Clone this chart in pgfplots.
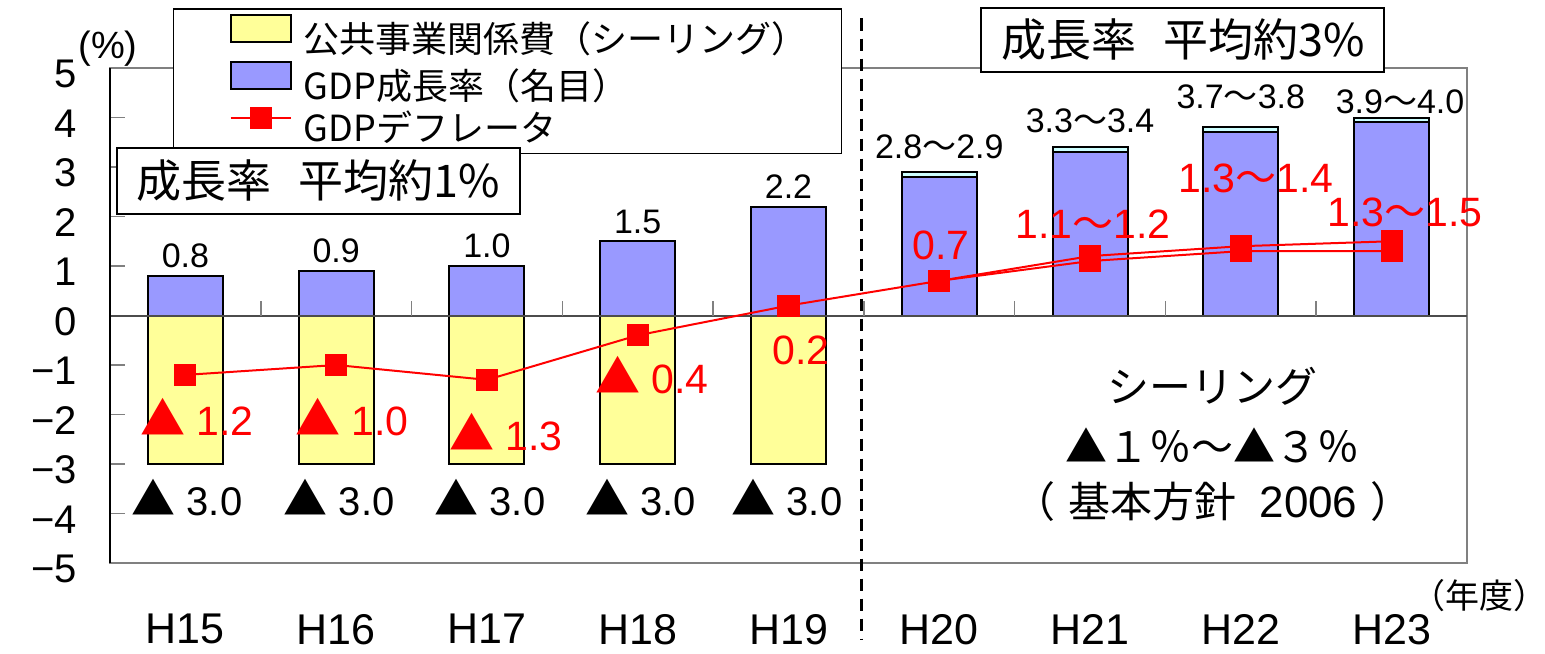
\documentclass[border=0pt]{standalone}
\usepackage{graphicx}
\usepackage{pgfplots}
\pgfplotsset{compat=1.18}
\usepackage{fontspec}
\setmainfont{Liberation Sans}
\newfontfamily\jp{Noto Sans CJK JP}
\newcommand{\fs}[1]{\fontsize{#1}{#1}\selectfont}
\newcommand{\tri}{\scalebox{1.1}{\jp ▲}}
\newcommand{\wv}{{\jp 〜}}
\newcommand{\lgd}[1]{\raisebox{0pt}[13pt][3pt]{#1}}
\definecolor{ceilfill}{HTML}{FFFF99}
\definecolor{gdpfill}{HTML}{9999FF}
\definecolor{rangefill}{HTML}{CCFFFF}
\definecolor{framegray}{HTML}{808080}
\pgfplotsset{
  boxlegend/.style={legend image code/.code={\path (-13pt,6pt);
     \draw[##1] (0pt,-0.5pt) rectangle (30pt,13pt);}},
  marklegend/.style={legend image code/.code={\path (-13pt,6pt);
     \draw[mark repeat=2, mark phase=2, ##1]
     plot coordinates {(0pt,6.3pt) (15pt,6.3pt) (30pt,6.3pt)};}},
}

\begin{document}
\begin{tikzpicture}
\path[use as bounding box] (-55pt,-45pt) rectangle (717.5pt,281.5pt);
\begin{axis}[
  name=ax, at={(0pt,0pt)}, anchor=south west,
  scale only axis, width=678.5pt, height=247.5pt,
  xmin=-0.5, xmax=8.5, ymin=-5, ymax=5,
  clip=false,
  axis line style={draw=framegray, line width=0.8pt},
  xtick={0,1,2,3,4,5,6,7,8},
  xticklabels={H15,H16,H17,H18,H19,H20,H21,H22,H23},
  xtick style={draw=none},
  xticklabel style={font=\fs{21.5}, inner sep=0pt, yshift=-25.5pt},
  ytick={-5,-4,-3,-2,-1,0,1,2,3,4,5},
  yticklabels={−5,−4,−3,−2,−1,0,1,2,3,4,5},
  ytick pos=left, tick align=inside, major tick length=7.5pt,
  ytick style={draw=framegray, line width=0.8pt},
  yticklabel style={font=\fs{20}, xshift=-13pt, yshift=-3pt},
  legend style={at={(0.0464,1.1212)}, anchor=north west,
    draw=black, line width=0.75pt, fill=white,
    inner xsep=15pt, inner ysep=2.5pt, row sep=0.7pt,
    font=\jp\fs{18},
    nodes={inner ysep=2pt},
    /tikz/every odd column/.append style={column sep=4pt}},
  legend cell align=left,
]

% public works budget under the ceiling (negative bars)
\addplot[ybar, bar width=37.5pt, bar shift=0pt, fill=ceilfill, draw=black, line width=1pt, boxlegend]
  coordinates {(0,-3) (1,-3) (2,-3) (3,-3) (4,-3)};
\addlegendentry{\lgd{公共事業関係費（シーリング）}}

% upper end of the projected growth range
\addplot[ybar, bar width=37.5pt, bar shift=0pt, fill=rangefill, draw=black, line width=1pt, forget plot]
  coordinates {(5,2.9) (6,3.4) (7,3.8) (8,4.0)};

% nominal GDP growth
\addplot[ybar, bar width=37.5pt, bar shift=0pt, fill=gdpfill, draw=black, line width=1pt, boxlegend]
  coordinates {(0,0.8) (1,0.9) (2,1.0) (3,1.5) (4,2.2) (5,2.8) (6,3.3) (7,3.7) (8,3.9)};
\addlegendentry{\lgd{GDP成長率（名目）}}

% zero line with category separators
\draw[black!70, line width=1pt] (axis cs:-0.5,0) -- (axis cs:8.5,0);
\foreach \k in {0.5,1.5,2.5,3.5,4.5,5.5,6.5,7.5}{
  \edef\tmp{\noexpand\draw[framegray, line width=0.8pt] (axis cs:\k,0) -- ++(0pt,7.5pt);}\tmp
}
\draw[black, line width=1.1pt] (rel axis cs:0,0) -- (rel axis cs:0,1);

% GDP deflator (lower and upper paths of the outlook)
\addplot[red, line width=1pt, mark=square*, mark size=5pt, mark options={solid, fill=red}, marklegend]
  coordinates {(0,-1.2) (1,-1.0) (2,-1.3) (3,-0.4) (4,0.2) (5,0.7) (6,1.1) (7,1.3) (8,1.3)};
\addlegendentry{\lgd{GDPデフレータ}}
\addplot[red, line width=1pt, mark=square*, mark size=5pt, mark options={solid, fill=red}, forget plot]
  coordinates {(5,0.7) (6,1.2) (7,1.4) (8,1.5)};

% period divider
\draw[black, line width=1.5pt, dash pattern=on 6pt off 4pt] (axis cs:4.485,6.0) -- (axis cs:4.485,-6.56);

% growth values above the bars
\begin{scope}[every node/.style={font=\fs{17}, inner sep=0pt, anchor=center}]
\node at (axis cs:0,1.20) {0.8};
\node at (axis cs:1,1.30) {0.9};
\node at (axis cs:2,1.40) {1.0};
\node at (axis cs:3,1.89) {1.5};
\node at (axis cs:4,2.60) {2.2};
\node at (axis cs:5,3.40) {2.8\wv 2.9};
\node at (axis cs:6,3.93) {3.3\wv 3.4};
\node at (axis cs:7,4.41) {3.7\wv 3.8};
\node at (axis cs:8.056,4.31) {3.9\wv 4.0};
\end{scope}

% ceiling values below the bars
\begin{scope}[every node/.style={font=\fs{20}, inner sep=0pt, anchor=center}]
\node at (axis cs:0.01,-3.68) {\tri\ 3.0};
\node at (axis cs:1.02,-3.68) {\tri\ 3.0};
\node at (axis cs:2.02,-3.68) {\tri\ 3.0};
\node at (axis cs:3.02,-3.68) {\tri\ 3.0};
\node at (axis cs:3.99,-3.68) {\tri\ 3.0};
\end{scope}

% deflator values
\begin{scope}[every node/.style={font=\fs{20.5}, text=red, inner sep=0pt, anchor=center}]
\node at (axis cs:0.077,-2.05) {\tri\ 1.2};
\node at (axis cs:1.105,-2.05) {\tri\ 1.0};
\node at (axis cs:2.126,-2.35) {\tri\ 1.3};
\node at (axis cs:3.095,-1.20) {\tri\ 0.4};
\node at (axis cs:4.083,-0.70) {0.2};
\node at (axis cs:5.011,1.42) {0.7};
\node at (axis cs:6.02,1.85) {1.1\wv 1.2};
\node at (axis cs:7.10,2.78) {1.3\wv 1.4};
\node at (axis cs:8.09,2.09) {1.3\wv 1.5};
\end{scope}

% ceiling policy note
\begin{scope}[every node/.style={font=\jp\fs{21}, inner sep=0pt, anchor=center}]
\node at (axis cs:6.815,-1.44) {シーリング};
\node at (axis cs:6.815,-2.62) {▲１％〜▲３％};
\node at (axis cs:6.815,-3.75) {（\hspace{0.3em}基本方針\hspace{0.55em}{\rmfamily\fs{22}2006}\hspace{0.3em}）};
\end{scope}

% unit labels
\node[font=\fs{19}, inner sep=0pt] at (axis cs:-0.513,5.40) {(\%)};
\node[font=\jp\fs{17}, inner sep=0pt] at (axis cs:8.586,-5.66) {（年度）};

\coordinate (boxA) at (axis cs:0.88,2.72);
\coordinate (boxB) at (axis cs:6.616,5.566);
\end{axis}

\node[draw=black, line width=1pt, fill=white, minimum width=201.5pt, minimum height=33pt,
  inner sep=0pt, font=\jp\fs{22.5}] at (boxA) {成長率\hspace{0.6em}平均約1\%};
\node[draw=black, line width=1pt, fill=white, minimum width=201.5pt, minimum height=32pt,
  inner sep=0pt, font=\jp\fs{22.5}] at (boxB) {成長率\hspace{0.6em}平均約3\%};
\end{tikzpicture}
\end{document}
